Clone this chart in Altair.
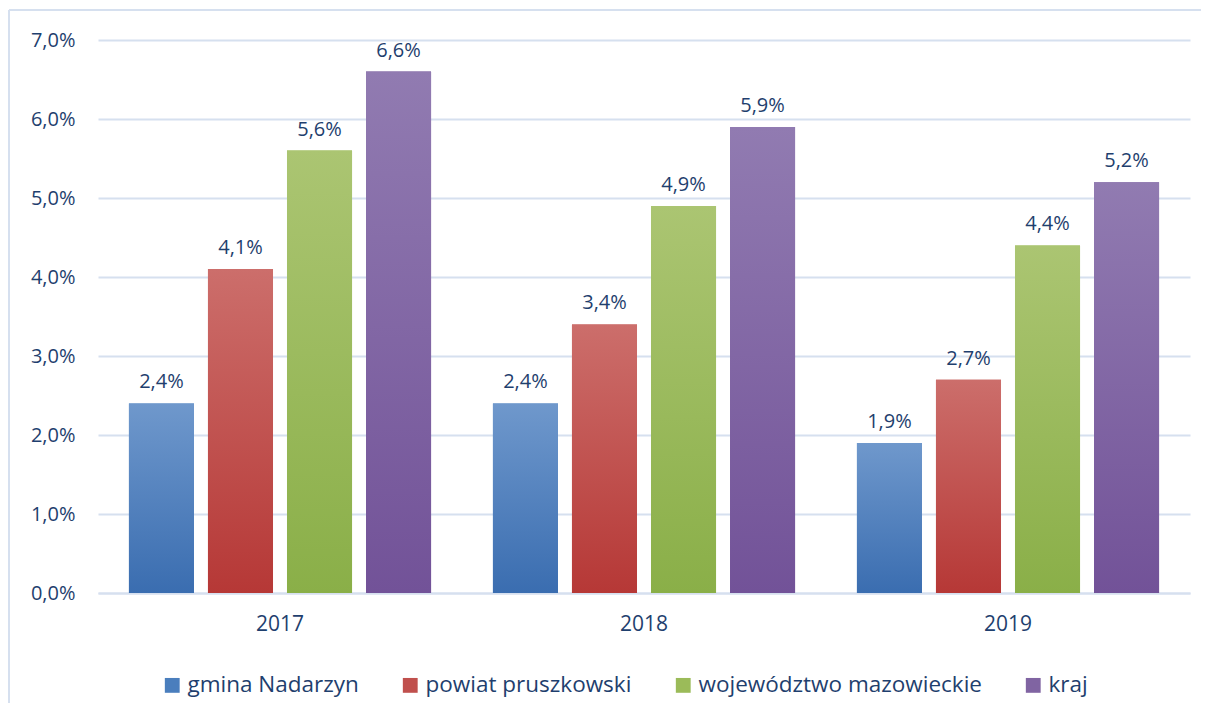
import altair as alt
import pandas as pd

years = ["2017", "2018", "2019"]
series = ["gmina Nadarzyn", "powiat pruszkowski", "województwo mazowieckie", "kraj"]
gmina = [2.4, 2.4, 1.9]
powiat = [4.1, 3.4, 2.7]
wojew = [5.6, 4.9, 4.4]
kraj = [6.6, 5.9, 5.2]

solid = ["#4a7ebd", "#c0504d", "#9bbb59", "#8064a2"]
grad_top = ["#6f98cc", "#cc6e6b", "#abc572", "#917bb1"]
grad_bot = ["#3a6db0", "#b63836", "#8aaf48", "#725298"]

rows = []
for s, vals in zip(series, [gmina, powiat, wojew, kraj]):
    for y, v in zip(years, vals):
        rows.append({"rok": y, "seria": s, "wartosc": v})
df = pd.DataFrame(rows)

FONT = "Open Sans"
TXT = "#1f3f6e"
FRAME = "#d6e0ef"

def grad(top, bot):
    return alt.Gradient(
        gradient="linear", x1=0, y1=0, x2=0, y2=1,
        stops=[alt.GradientStop(color=top, offset=0), alt.GradientStop(color=bot, offset=1)],
    )

x_enc = alt.X("rok:N", title=None,
              scale=alt.Scale(paddingInner=0.17, paddingOuter=0.085),
              axis=alt.Axis(labelAngle=0, labelFont=FONT, labelFontSize=21, labelColor=TXT,
                            labelPadding=20, ticks=False, domain=True, domainColor=FRAME,
                            domainWidth=2, grid=False))
xoff = alt.XOffset("seria:N", sort=series, scale=alt.Scale(paddingInner=0.177, paddingOuter=0))
y_enc = alt.Y("wartosc:Q", title=None,
              scale=alt.Scale(domain=[0, 7], nice=False),
              axis=alt.Axis(values=[0, 1, 2, 3, 4, 5, 6, 7],
                            labelExpr="replace(format(datum.value, '.1f'), '.', ',') + '%'",
                            labelFont=FONT, labelFontSize=20, labelColor=TXT, labelPadding=23,
                            ticks=False, domain=False, grid=True, gridColor=FRAME, gridWidth=2))

base = alt.Chart(df)

legend_bars = base.mark_bar().encode(
    x=x_enc, xOffset=xoff, y=y_enc,
    color=alt.Color("seria:N", sort=series,
                    scale=alt.Scale(domain=series, range=solid),
                    legend=alt.Legend(title=None, orient="none", direction="horizontal",
                                      legendX=63, legendY=634,
                                      symbolType="square", symbolSize=220, symbolStrokeWidth=0,
                                      labelFont=FONT, labelFontSize=22.5, labelColor=TXT,
                                      labelLimit=500, columnPadding=40, labelOffset=4)),
)

grad_bars = base.mark_bar().encode(
    x=x_enc, xOffset=xoff, y=y_enc,
    fill={
        "condition": [
            {"test": f"datum.seria == '{s}'", "value": grad(t, b).to_dict()}
            for s, t, b in zip(series[:-1], grad_top[:-1], grad_bot[:-1])
        ],
        "value": grad(grad_top[-1], grad_bot[-1]).to_dict(),
    },
)

labels = base.mark_text(font=FONT, fontSize=20, color=TXT, baseline="bottom", dy=-11).encode(
    x=x_enc, xOffset=xoff, y=y_enc,
    text=alt.Text("lbl:N"),
).transform_calculate(lbl="replace(format(datum.wartosc, '.1f'), '.', ',') + '%'")

# chart-area frame (left and top edges visible in the reference)
frame_left = alt.Chart().mark_rule(color=FRAME, strokeWidth=2).encode(
    x=alt.value(-89), y=alt.value(-30), y2=alt.value(680))
frame_top = alt.Chart().mark_rule(color=FRAME, strokeWidth=2).encode(
    x=alt.value(-89), x2=alt.value(1103), y=alt.value(-30))

chart = alt.layer(frame_left, frame_top, legend_bars, grad_bars, labels, data=df).properties(
    width=1092, height=553,
    autosize=alt.AutoSizeParams(type="none"),
    padding={"left": 90, "top": 32, "right": 11, "bottom": 110},
).configure(background="white").configure_view(stroke=None)

chart.save("out.html", embed_options={"renderer": "svg", "actions": False})
